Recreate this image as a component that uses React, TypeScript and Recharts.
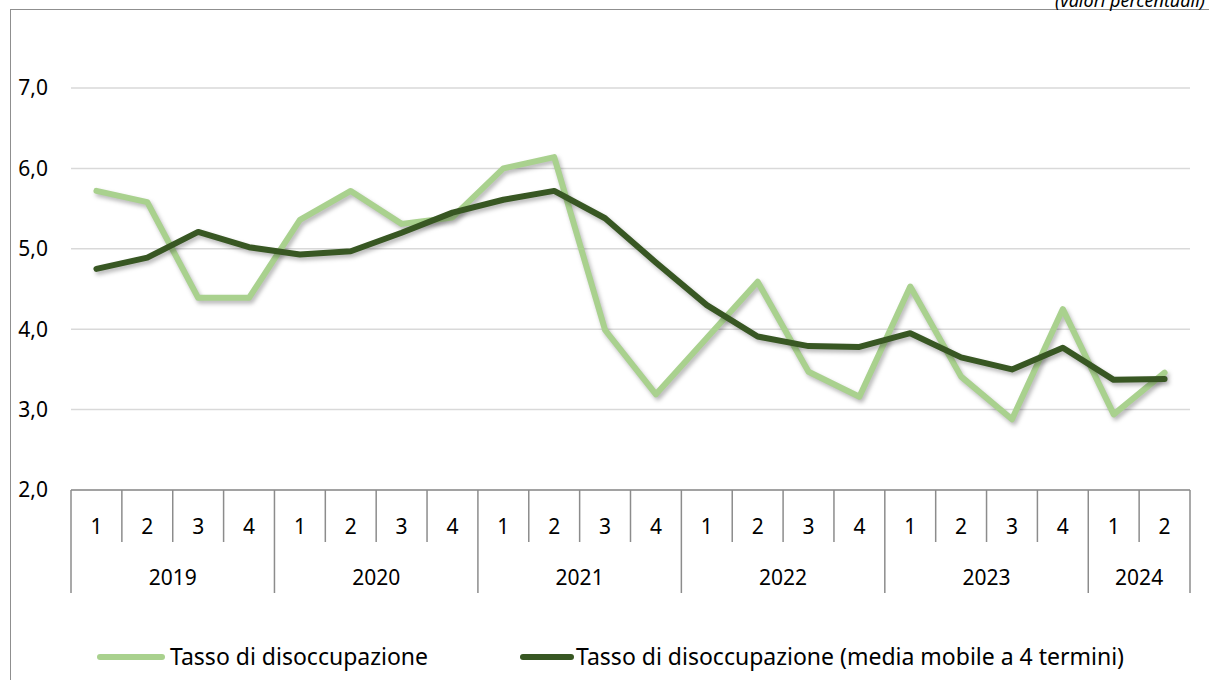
import { LineChart, Line, XAxis, YAxis, CartesianGrid, Legend } from "recharts";

const quarterLabels = ["1", "2", "3", "4", "1", "2", "3", "4", "1", "2", "3", "4", "1", "2", "3", "4", "1", "2", "3", "4", "1", "2"];
const yearLabels = [
  "2019", "2019", "2019", "2019",
  "2020", "2020", "2020", "2020",
  "2021", "2021", "2021", "2021",
  "2022", "2022", "2022", "2022",
  "2023", "2023", "2023", "2023",
  "2024", "2024",
];
const tasso = [5.72, 5.58, 4.39, 4.39, 5.36, 5.72, 5.31, 5.39, 6.0, 6.14, 3.99, 3.19, 3.89, 4.59, 3.47, 3.16, 4.53, 3.41, 2.88, 4.25, 2.94, 3.46];
const mediaMobile = [4.75, 4.89, 5.21, 5.02, 4.93, 4.97, 5.2, 5.45, 5.61, 5.72, 5.38, 4.83, 4.3, 3.91, 3.79, 3.78, 3.95, 3.65, 3.5, 3.77, 3.37, 3.38];
const yTicks = [2, 3, 4, 5, 6, 7];

const data = quarterLabels.map((q, i) => ({
  key: i,
  q,
  year: yearLabels[i],
  tasso: tasso[i],
  media: mediaMobile[i],
}));

const W = 1209;
const H = 680;
const X_AXIS_H = 110;
const LEGEND_H = 36;
const Y_AXIS_W = 71;
const PLOT_RIGHT = 1190;
// margins so that the plot sits between y=88 and y=490, x=71 and x=1190
const M = { top: 88, right: W - PLOT_RIGHT, bottom: H - 490 - X_AXIS_H - LEGEND_H, left: 0 };
const PLOT_W = PLOT_RIGHT - Y_AXIS_W;
const FONT = "'Noto Sans', 'Open Sans', sans-serif";
const LIGHT = "#a9d18e";
const DARK = "#385723";
const RULE = "#8c8c8c";

const CategoryTick = (props: any) => {
  const { x, y } = props;
  const i = props.index ?? props.payload?.index ?? 0;
  const band = PLOT_W / data.length;
  const row = data[i];
  const firstOfYear = i === 0 || data[i - 1].year !== row.year;
  const last = i === data.length - 1;
  const count = data.filter((d) => d.year === row.year).length;
  const left = x - band / 2;
  return (
    <g>
      <line x1={left} x2={left} y1={y} y2={y + (firstOfYear ? 103 : 52)} stroke={RULE} strokeWidth={1.5} />
      {last && <line x1={x + band / 2} x2={x + band / 2} y1={y} y2={y + 103} stroke={RULE} strokeWidth={1.5} />}
      <text x={x} y={y + 36} textAnchor="middle" dominantBaseline="central" fontSize={21} fill="#000" fontFamily={FONT}>
        {row.q}
      </text>
      {firstOfYear && (
        <text x={left + (count * band) / 2} y={y + 87} textAnchor="middle" dominantBaseline="central" fontSize={21} fill="#000" fontFamily={FONT}>
          {row.year}
        </text>
      )}
    </g>
  );
};

const LegendContent = () => (
  <div style={{ position: "relative", height: LEGEND_H, fontFamily: FONT, fontSize: 23, color: "#000" }}>
    <div style={{ position: "absolute", left: 97, top: 16, width: 68, height: 6, borderRadius: 3, background: LIGHT }} />
    <span style={{ position: "absolute", left: 170, top: 2, whiteSpace: "nowrap" }}>Tasso di disoccupazione</span>
    <div style={{ position: "absolute", left: 520, top: 16, width: 54, height: 6, borderRadius: 3, background: DARK }} />
    <span style={{ position: "absolute", left: 576, top: 2, whiteSpace: "nowrap" }}>
      Tasso di disoccupazione (media mobile a 4 termini)
    </span>
  </div>
);

export default function App() {
  return (
    <div style={{ position: "absolute", left: 0, top: 0, width: W, height: H, overflow: "hidden", background: "#fff" }}>
      <style>{`.shadowed path { filter: drop-shadow(2px 3px 2px rgba(0,0,0,0.28)); }`}</style>
      <div
        style={{
          position: "absolute",
          left: 10,
          top: 9,
          width: W,
          height: H,
          borderLeft: "1.5px solid #8f8f8f",
          borderTop: "1.5px solid #8f8f8f",
        }}
      />
      <div
        style={{
          position: "absolute",
          left: 1055,
          top: -9,
          fontFamily: FONT,
          fontStyle: "italic",
          fontSize: 18,
          lineHeight: "18px",
          whiteSpace: "nowrap",
          color: "#000",
        }}
      >
        (valori percentuali)
      </div>
      <LineChart width={W} height={H} data={data} margin={M} style={{ position: "absolute", left: 0, top: 0 }}>
        <CartesianGrid vertical={false} stroke="#d9d9d9" strokeWidth={1.5} />
        <XAxis
          dataKey="key"
          scale="band"
          interval={0}
          tickLine={false}
          tickSize={0}
          tickMargin={0}
          axisLine={{ stroke: RULE, strokeWidth: 1.5 }}
          tick={<CategoryTick />}
          height={X_AXIS_H}
        />
        <YAxis
          width={Y_AXIS_W}
          domain={[2, 7]}
          ticks={yTicks}
          axisLine={false}
          tickLine={false}
          tickSize={0}
          tickMargin={23}
          tickFormatter={(v: number) => v.toFixed(1).replace(".", ",")}
          tick={{ fontSize: 21, fill: "#000", fontFamily: FONT }}
        />
        <Line
          className="shadowed"
          type="linear"
          dataKey="tasso"
          stroke={LIGHT}
          strokeWidth={6}
          dot={false}
          strokeLinejoin="round"
          strokeLinecap="round"
          isAnimationActive={false}
        />
        <Line
          className="shadowed"
          type="linear"
          dataKey="media"
          stroke={DARK}
          strokeWidth={6}
          dot={false}
          strokeLinejoin="round"
          strokeLinecap="round"
          isAnimationActive={false}
        />
        <Legend
          content={<LegendContent />}
          wrapperStyle={{ position: "absolute", left: 0, top: 638, width: W, height: LEGEND_H }}
        />
      </LineChart>
    </div>
  );
}
